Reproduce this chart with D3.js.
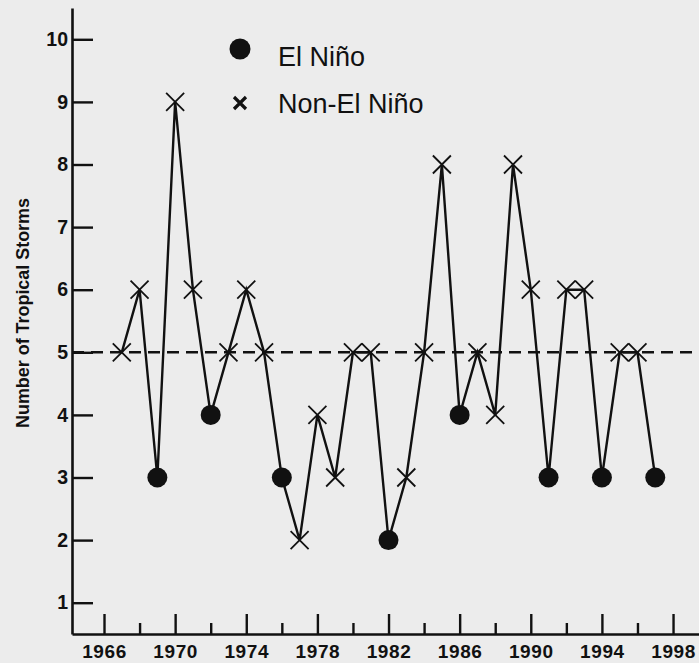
<!DOCTYPE html>
<html>
<head>
<meta charset="utf-8">
<script src="https://cdn.jsdelivr.net/npm/d3@7"></script>
<style>
  body { margin: 0; background: #ececec; }
  svg { display: block; font-family: "Liberation Sans", Arial, Helvetica, sans-serif; }
</style>
</head>
<body>
<script>
// tropical storms per year, El Nino years flagged
var years = [1967,1968,1969,1970,1971,1972,1973,1974,1975,1976,1977,1978,1979,1980,1981,
             1982,1983,1984,1985,1986,1987,1988,1989,1990,1991,1992,1993,1994,1995,1996,1997]
var storms = [5,6,3,9,6,4,5,6,5,3,2,4,3,5,5,
              2,3,5,8,4,5,4,8,6,3,6,6,3,5,5,3]
var elNino = [0,0,1,0,0,1,0,0,0,1,0,0,0,0,0,
              1,0,0,0,1,0,0,0,0,1,0,0,1,0,0,1]
var majorTicks = [1966,1970,1974,1978,1982,1986,1990,1994,1998]
var minorTicks = [1968,1972,1976,1980,1984,1988,1992,1996]
var yTicks = [1,2,3,4,5,6,7,8,9,10]
var meanLine = 5

var W = 699, H = 663

var svg = d3.select("body").append("svg")
    .attr("width", W).attr("height", H)

svg.append("rect").attr("width", W).attr("height", H).attr("fill", "#ececec")

var x = d3.scaleLinear().domain([1964.2, 1999.46]).range([72, 699])
var y = d3.scaleLinear().domain([0.5, 10.5]).range([634, 8])

var data = years.map(function(d, i) {
  return { year: d, n: storms[i], nino: elNino[i] }
})

// x axis, ticks pointing up
var xAxis = svg.append("g")
    .attr("transform", "translate(0," + y(0.5) + ")")
    .call(d3.axisBottom(x).tickValues(majorTicks).tickFormat(d3.format("d"))
            .tickSize(-20).tickSizeOuter(0).tickPadding(11))
xAxis.select(".domain").attr("stroke-width", 2.6).attr("stroke", "#111")
xAxis.selectAll(".tick line").attr("stroke-width", 2.4).attr("stroke", "#111")
xAxis.selectAll(".tick text")
    .attr("font-size", 19).attr("font-weight", "bold").attr("fill", "#111")
    .attr("letter-spacing", 0.6)

svg.append("g")
    .attr("transform", "translate(0," + y(0.5) + ")")
    .call(d3.axisBottom(x).tickValues(minorTicks).tickFormat("").tickSize(-11).tickSizeOuter(0))
    .call(function(g) {
      g.select(".domain").remove()
      g.selectAll(".tick line").attr("stroke-width", 2.4).attr("stroke", "#111")
    })

// y axis, ticks pointing right
var yAxis = svg.append("g")
    .attr("transform", "translate(" + x.range()[0] + ",0)")
    .call(d3.axisLeft(y).tickValues(yTicks).tickSize(-21).tickSizeOuter(0).tickPadding(4))
yAxis.select(".domain").attr("stroke-width", 2.6).attr("stroke", "#111")
yAxis.selectAll(".tick line").attr("stroke-width", 2.4).attr("stroke", "#111")
yAxis.selectAll(".tick text")
    .attr("font-size", 19.5).attr("font-weight", "bold").attr("fill", "#111")

svg.append("text")
    .attr("transform", "translate(29,313) rotate(-90)")
    .attr("text-anchor", "middle")
    .attr("font-size", 18).attr("font-weight", "bold").attr("fill", "#111")
    .attr("textLength", 230).attr("lengthAdjust", "spacingAndGlyphs")
    .text("Number of Tropical Storms")

// dashed mean line
svg.append("line")
    .attr("x1", x.range()[0]).attr("x2", W)
    .attr("y1", y(meanLine)).attr("y2", y(meanLine))
    .attr("stroke", "#111").attr("stroke-width", 2.6)
    .attr("stroke-dasharray", "12,7")

// series line
var line = d3.line().x(function(d) { return x(d.year) }).y(function(d) { return y(d.n) })
svg.append("path").datum(data)
    .attr("d", line).attr("fill", "none")
    .attr("stroke", "#111").attr("stroke-width", 2.4)

// non El Nino crosses
var s = 9
svg.selectAll("path.cross").data(data.filter(function(d) { return !d.nino }))
  .enter().append("path")
    .attr("class", "cross")
    .attr("d", function(d) {
      var cx = x(d.year), cy = y(d.n)
      return "M" + (cx - s) + "," + (cy - s) + "L" + (cx + s) + "," + (cy + s) +
             "M" + (cx - s) + "," + (cy + s) + "L" + (cx + s) + "," + (cy - s)
    })
    .attr("stroke", "#111").attr("stroke-width", 1.8).attr("fill", "none")

// El Nino dots
svg.selectAll("circle.nino").data(data.filter(function(d) { return d.nino }))
  .enter().append("circle")
    .attr("class", "nino")
    .attr("cx", function(d) { return x(d.year) })
    .attr("cy", function(d) { return y(d.n) })
    .attr("r", 10).attr("fill", "#111")

// legend
var legend = svg.append("g")
legend.append("circle").attr("cx", 240).attr("cy", 49).attr("r", 10.5).attr("fill", "#111")
legend.append("path")
    .attr("d", "M234,97L246,109M234,109L246,97")
    .attr("stroke", "#111").attr("stroke-width", 3.2)
legend.append("text").attr("x", 278).attr("y", 66)
    .attr("font-size", 27).attr("fill", "#111").text("El Niño")
legend.append("text").attr("x", 278).attr("y", 113)
    .attr("font-size", 27).attr("fill", "#111").text("Non-El Niño")
</script>
</body>
</html>
